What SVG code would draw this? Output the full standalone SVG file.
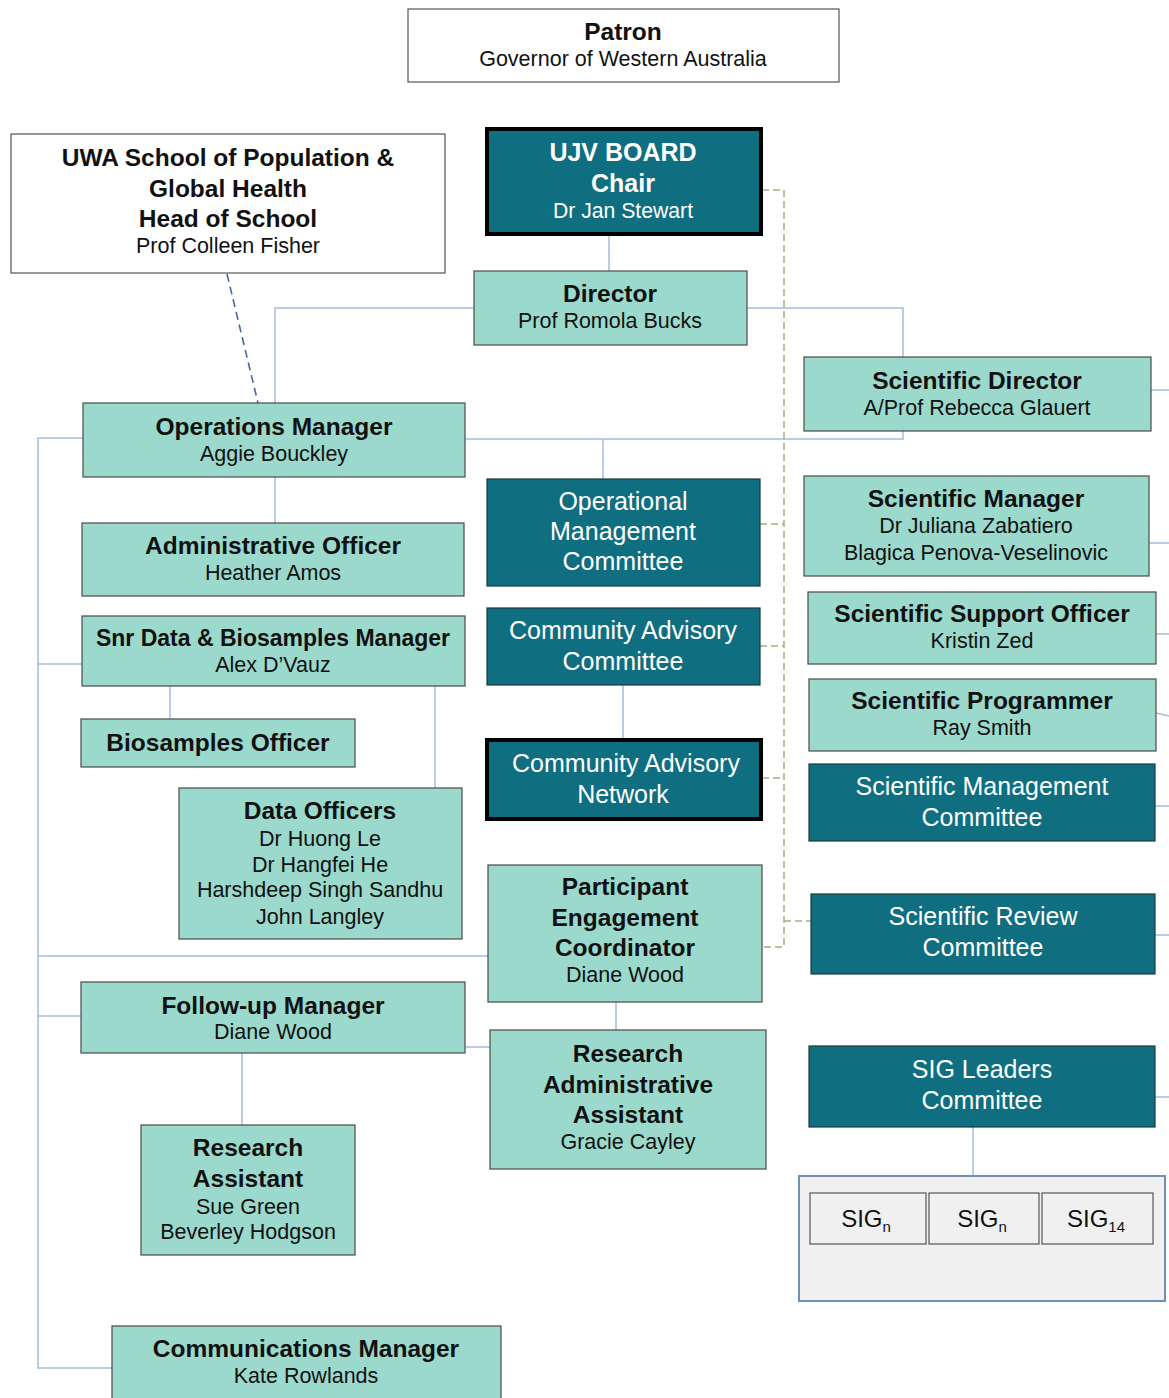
<svg xmlns="http://www.w3.org/2000/svg" width="1169" height="1398" viewBox="0 0 1169 1398">
<style>
.lt{fill:#9bd9cc;stroke:#4a4a4a;stroke-width:1.2}
.dk{fill:#0f6e80;stroke:#1a3a40;stroke-width:1.2}
.dkb{fill:#0f6e80;stroke:#000;stroke-width:4}
.wh{fill:#fff;stroke:#555;stroke-width:1.2}
.sig{fill:#f0f0f0;stroke:#555;stroke-width:1.2}
text{font-family:"Liberation Sans",Arial,sans-serif;text-anchor:middle}
.b{font-weight:bold;font-size:24.5px;fill:#111}
.r{font-size:21.5px;fill:#111}
.wb{font-weight:bold;font-size:25px;fill:#fff}
.wr{font-size:21.2px;fill:#fff}
.w{font-size:25px;fill:#fff}
.s{font-size:24px;fill:#111}
.sub{font-size:15px}
.ln{fill:none;stroke:#a3bddf;stroke-width:1.5}
.dash{fill:none;stroke:#a4ad82;stroke-width:1.5;stroke-dasharray:7,4}
.bd{fill:none;stroke:#4468a8;stroke-width:1.6;stroke-dasharray:8,5}
</style>
<rect width="1169" height="1398" fill="#fff"/>
<g id="connectors">
<line class="ln" x1="609" y1="235" x2="609" y2="271"/>
<polyline class="ln" points="474,308 275,308 275,403"/>
<polyline class="ln" points="747,308 903,308 903,357"/>
<polyline class="ln" points="903,431 903,439 465,439"/>
<line class="ln" x1="603" y1="439" x2="603" y2="479"/>
<line class="ln" x1="275" y1="477" x2="275" y2="523"/>
<polyline class="ln" points="83,438 38,438 38,1368 112,1368"/>
<line class="ln" x1="38" y1="664" x2="82" y2="664"/>
<line class="ln" x1="38" y1="956" x2="488" y2="956"/>
<line class="ln" x1="38" y1="1016" x2="81" y2="1016"/>
<line class="ln" x1="170" y1="686" x2="170" y2="719"/>
<line class="ln" x1="435" y1="686" x2="435" y2="788"/>
<line class="ln" x1="623" y1="685" x2="623" y2="739"/>
<line class="ln" x1="616" y1="1002" x2="616" y2="1030"/>
<line class="ln" x1="465" y1="1047" x2="490" y2="1047"/>
<line class="ln" x1="242" y1="1053" x2="242" y2="1125"/>
<line class="ln" x1="973" y1="1127" x2="973" y2="1176"/>
<line class="ln" x1="1151" y1="390" x2="1169" y2="390"/>
<line class="ln" x1="1149" y1="543" x2="1169" y2="543"/>
<line class="ln" x1="1156" y1="634" x2="1169" y2="634"/>
<line class="ln" x1="1156" y1="713" x2="1169" y2="716"/>
<line class="ln" x1="1155" y1="806" x2="1169" y2="806"/>
<line class="ln" x1="1155" y1="935" x2="1169" y2="935"/>
<line class="ln" x1="1155" y1="1097" x2="1169" y2="1097"/>
<polyline class="dash" points="762,190 784,190 784,947 762,947"/>
<line class="dash" x1="760" y1="524" x2="784" y2="524"/>
<line class="dash" x1="760" y1="646" x2="784" y2="646"/>
<line class="dash" x1="762" y1="778" x2="784" y2="778"/>
<line class="dash" x1="784" y1="921" x2="811" y2="921"/>
<line class="bd" x1="227" y1="274" x2="258" y2="403"/>
</g>
<g id="patron"><rect class="wh" x="408" y="9" width="431" height="73"/><text class="b" x="623" y="40">Patron</text><text class="r" x="623" y="66">Governor of Western Australia</text></g>
<g id="uwa"><rect class="wh" x="11" y="134" width="434" height="139"/><text class="b" x="228" y="166">UWA School of Population &amp;</text><text class="b" x="228" y="197">Global Health</text><text class="b" x="228" y="227">Head of School</text><text class="r" x="228" y="253">Prof Colleen Fisher</text></g>
<g id="ujv"><rect class="dkb" x="487" y="129" width="274" height="105"/><text class="wb" x="623" y="161">UJV BOARD</text><text class="wb" x="623" y="192">Chair</text><text class="wr" x="623" y="218">Dr Jan Stewart</text></g>
<g id="director"><rect class="lt" x="474" y="271" width="273" height="74"/><text class="b" x="610" y="302">Director</text><text class="r" x="610" y="328">Prof Romola Bucks</text></g>
<g id="sci-director"><rect class="lt" x="804" y="357" width="347" height="74"/><text class="b" x="977" y="389">Scientific  Director</text><text class="r" x="977" y="415">A/Prof Rebecca Glauert</text></g>
<g id="ops-manager"><rect class="lt" x="83" y="403" width="382" height="74"/><text class="b" x="274" y="435">Operations  Manager</text><text class="r" x="274" y="461">Aggie Bouckley</text></g>
<g id="omc"><rect class="dk" x="487" y="479" width="273" height="107"/><text class="w" x="623" y="510">Operational</text><text class="w" x="623" y="540">Management</text><text class="w" x="623" y="570">Committee</text></g>
<g id="sci-manager"><rect class="lt" x="804" y="476" width="345" height="100"/><text class="b" x="976" y="507">Scientific  Manager</text><text class="r" x="976" y="533">Dr Juliana  Zabatiero</text><text class="r" x="976" y="560">Blagica Penova-Veselinovic</text></g>
<g id="admin-officer"><rect class="lt" x="82" y="523" width="382" height="73"/><text class="b" x="273" y="554">Administrative  Officer</text><text class="r" x="273" y="580">Heather Amos</text></g>
<g id="snr-data"><rect class="lt" x="82" y="616" width="383" height="70"/><text class="b" x="273" y="646" style="font-size:23px">Snr Data &amp; Biosamples  Manager</text><text class="r" x="273" y="672">Alex D’Vauz</text></g>
<g id="cac"><rect class="dk" x="487" y="608" width="273" height="77"/><text class="w" x="623" y="639">Community  Advisory</text><text class="w" x="623" y="670">Committee</text></g>
<g id="sci-support"><rect class="lt" x="808" y="592" width="348" height="72"/><text class="b" x="982" y="622">Scientific  Support  Officer</text><text class="r" x="982" y="648">Kristin Zed</text></g>
<g id="sci-programmer"><rect class="lt" x="809" y="679" width="347" height="72"/><text class="b" x="982" y="709">Scientific  Programmer</text><text class="r" x="982" y="735">Ray Smith</text></g>
<g id="biosamples-officer"><rect class="lt" x="81" y="719" width="274" height="48"/><text class="b" x="218" y="751">Biosamples  Officer</text></g>
<g id="can"><rect class="dkb" x="487" y="740" width="274" height="79"/><text class="w" x="626" y="772">Community  Advisory</text><text class="w" x="623" y="803">Network</text></g>
<g id="smc"><rect class="dk" x="809" y="764" width="346" height="77"/><text class="w" x="982" y="795">Scientific  Management</text><text class="w" x="982" y="826">Committee</text></g>
<g id="data-officers"><rect class="lt" x="179" y="788" width="283" height="151"/><text class="b" x="320" y="819">Data Officers</text><text class="r" x="320" y="846">Dr Huong Le</text><text class="r" x="320" y="872">Dr Hangfei He</text><text class="r" x="320" y="897">Harshdeep Singh Sandhu</text><text class="r" x="320" y="924">John Langley</text></g>
<g id="pec"><rect class="lt" x="488" y="865" width="274" height="137"/><text class="b" x="625" y="895">Participant</text><text class="b" x="625" y="926">Engagement</text><text class="b" x="625" y="956">Coordinator</text><text class="r" x="625" y="982">Diane Wood</text></g>
<g id="src"><rect class="dk" x="811" y="894" width="344" height="80"/><text class="w" x="983" y="925">Scientific Review</text><text class="w" x="983" y="956">Committee</text></g>
<g id="follow-up"><rect class="lt" x="81" y="982" width="384" height="71"/><text class="b" x="273" y="1014">Follow-up  Manager</text><text class="r" x="273" y="1039">Diane Wood</text></g>
<g id="raa"><rect class="lt" x="490" y="1030" width="276" height="139"/><text class="b" x="628" y="1062">Research</text><text class="b" x="628" y="1093">Administrative</text><text class="b" x="628" y="1123">Assistant</text><text class="r" x="628" y="1149">Gracie Cayley</text></g>
<g id="sig-leaders"><rect class="dk" x="809" y="1046" width="346" height="81"/><text class="w" x="982" y="1078">SIG Leaders</text><text class="w" x="982" y="1109">Committee</text></g>
<g id="research-assistant"><rect class="lt" x="141" y="1125" width="214" height="130"/><text class="b" x="248" y="1156">Research</text><text class="b" x="248" y="1187">Assistant</text><text class="r" x="248" y="1214">Sue Green</text><text class="r" x="248" y="1239">Beverley Hodgson</text></g>
<g id="sig-group"><rect x="799" y="1176" width="366" height="125" fill="#f0f0f0" stroke="#6f8fb5" stroke-width="2"/>
<rect class="sig" x="810" y="1193" width="116" height="51"/><text class="s" x="866" y="1227">SIG<tspan class="sub" dy="5">n</tspan></text>
<rect class="sig" x="929" y="1193" width="110" height="51"/><text class="s" x="982" y="1227">SIG<tspan class="sub" dy="5">n</tspan></text>
<rect class="sig" x="1042" y="1193" width="111" height="51"/><text class="s" x="1096" y="1227">SIG<tspan class="sub" dy="5">14</tspan></text></g>
<g id="comms"><rect class="lt" x="112" y="1326" width="389" height="75"/><text class="b" x="306" y="1357">Communications  Manager</text><text class="r" x="306" y="1383">Kate Rowlands</text></g>
</svg>
